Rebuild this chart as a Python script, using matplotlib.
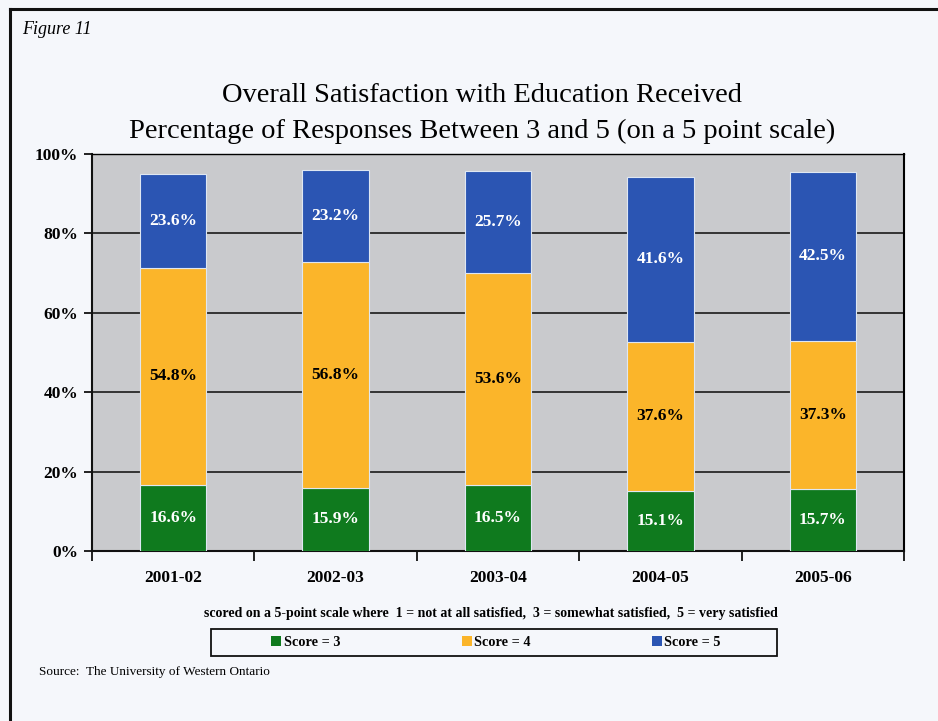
import matplotlib
matplotlib.use("Agg")
import matplotlib.pyplot as plt
from matplotlib.patches import Rectangle, Patch
from matplotlib.lines import Line2D
import numpy as np

# Survey results by academic year (percent of responses)
years = ["2001-02", "2002-03", "2003-04", "2004-05", "2005-06"]
score3 = [16.6, 15.9, 16.5, 15.1, 15.7]
score4 = [54.8, 56.8, 53.6, 37.6, 37.3]
score5 = [23.6, 23.2, 25.7, 41.6, 42.5]
series_names = ["Score = 3", "Score = 4", "Score = 5"]
series_colors = ["#0f7a1e", "#fbb52a", "#2b55b3"]
label_colors = ["white", "black", "white"]
y_ticks = [0, 20, 40, 60, 80, 100]

W, H = 938, 721
fig = plt.figure(figsize=(W / 100, H / 100), dpi=100)
fig.patch.set_facecolor("#f5f7fb")

serif = "Liberation Serif"

def fx(px):
    return px / W

def fy(py):
    return 1 - py / H

# outer frame (top and left rules)
fig.add_artist(Line2D([fx(10), 1.0], [fy(9), fy(9)], color="#111111", lw=2.2,
                      transform=fig.transFigure))
fig.add_artist(Line2D([fx(10), fx(10)], [fy(9), 0.0], color="#111111", lw=2.2,
                      transform=fig.transFigure))

fig.text(fx(22), fy(30), "Figure 11", family=serif, style="italic", fontsize=13,
         ha="left", va="center")
fig.text(fx(482), fy(96), "Overall Satisfaction with Education Received",
         family=serif, fontsize=20.5, ha="center", va="center")
fig.text(fx(482), fy(131), "Percentage of Responses Between 3 and 5 (on a 5 point scale)",
         family=serif, fontsize=20.5, ha="center", va="center")

left, right, top, bottom = 92, 904, 154, 551
ax = fig.add_axes([fx(left), fy(bottom), fx(right - left), (bottom - top) / H])
ax.set_facecolor("#c9cacd")

x = np.arange(len(years))
bw = 0.41
bottoms = np.zeros(len(years))
for vals, name, col, lc in zip([score3, score4, score5], series_names, series_colors, label_colors):
    vals = np.array(vals)
    ax.bar(x, vals, bw, bottom=bottoms, color=col, edgecolor="#dfe7f2",
           linewidth=0.8, label=name, zorder=3)
    for xi, b, v in zip(x, bottoms, vals):
        ax.text(xi, b + v / 2, f"{v:.1f}%", ha="center", va="center",
                color=lc, family=serif, fontweight="bold", fontsize=12.5, zorder=4)
    bottoms = bottoms + vals

ax.set_xlim(-0.5, len(years) - 0.5)
ax.set_ylim(0, 100)
ax.set_yticks(y_ticks)
ax.set_yticklabels([f"{t}%" for t in y_ticks], family=serif, fontweight="bold", fontsize=12.5)
ax.yaxis.grid(True, color="#1a1a1a", lw=1.2, zorder=1)
ax.set_axisbelow(True)

ax.set_xticks(x)
ax.set_xticklabels(years, family=serif, fontweight="bold", fontsize=12.5)
ax.tick_params(axis="x", length=0, pad=14)
ax.set_xticks(np.arange(-0.5, len(years)), minor=True)
ax.tick_params(axis="x", which="minor", length=7, width=1.3, direction="out", color="#111111")
ax.tick_params(axis="y", length=6, width=1.3, direction="out", color="#111111", pad=4)

for s in ["left", "bottom"]:
    ax.spines[s].set_linewidth(1.5)
    ax.spines[s].set_color("#111111")
ax.spines["top"].set_linewidth(1.0)
ax.spines["right"].set_linewidth(1.5)

fig.text(fx(491), fy(613),
         "scored on a 5-point scale where  1 = not at all satisfied,  3 = somewhat satisfied,  5 = very satisfied",
         family=serif, fontweight="bold", fontsize=10, ha="center", va="center")

# legend box
fig.add_artist(Rectangle((fx(211), fy(656)), fx(566), 27 / H, fill=False,
                         edgecolor="#111111", lw=1.3, transform=fig.transFigure))
handles = [Patch(facecolor=c, edgecolor="none") for c in series_colors]
leg = fig.legend(handles, series_names, loc="center", bbox_to_anchor=(fx(496), fy(642.5)),
                 ncol=3, frameon=False, handlelength=0.7, handleheight=0.7,
                 handletextpad=0.15, columnspacing=8.5,
                 prop={"family": serif, "weight": "bold", "size": 10.3})

fig.text(fx(39), fy(672), "Source:  The University of Western Ontario",
         family=serif, fontsize=9.5, ha="left", va="center")

fig.savefig("out.png", dpi=100, facecolor=fig.get_facecolor())
